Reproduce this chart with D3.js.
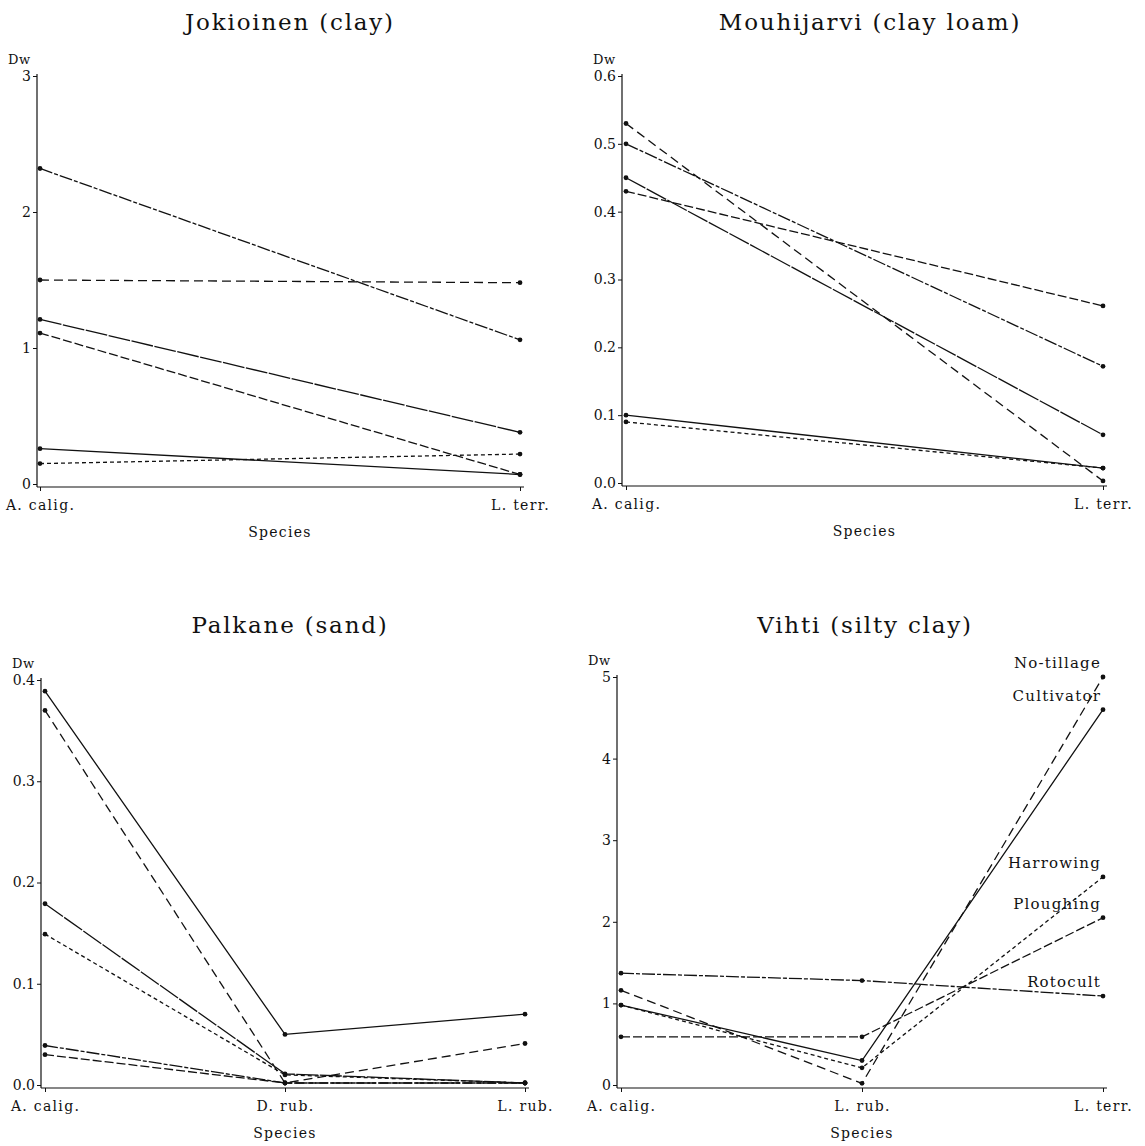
<!DOCTYPE html>
<html>
<head>
<meta charset="utf-8">
<script src="https://cdn.jsdelivr.net/npm/d3@7"></script>
<style>
  html, body { margin: 0; padding: 0; background: #fff; }
  svg text { font-family: "DejaVu Serif", "Liberation Serif", serif; fill: #111; }
</style>
</head>
<body>
<svg id="chart" width="1145" height="1146"></svg>
<script>
// ---- data ----
const jokSpecies = ["A. calig.", "L. terr."];
const jokTicks = [0, 1, 2, 3];
const jokValues = [
  [2.32, 1.06],
  [1.50, 1.48],
  [1.21, 0.38],
  [1.11, 0.07],
  [0.26, 0.07],
  [0.15, 0.22]
];

const mouSpecies = ["A. calig.", "L. terr."];
const mouTicks = [0, 0.1, 0.2, 0.3, 0.4, 0.5, 0.6];
const mouValues = [
  [0.53, 0.003],
  [0.50, 0.172],
  [0.45, 0.071],
  [0.43, 0.261],
  [0.10, 0.022],
  [0.09, 0.022]
];

const palSpecies = ["A. calig.", "D. rub.", "L. rub."];
const palTicks = [0, 0.1, 0.2, 0.3, 0.4];
const palValues = [
  [0.389, 0.050, 0.070],
  [0.370, 0.002, 0.041],
  [0.179, 0.011, 0.002],
  [0.149, 0.010, 0.002],
  [0.039, 0.002, 0.002],
  [0.030, 0.002, 0.002]
];

const vihSpecies = ["A. calig.", "L. rub.", "L. terr."];
const vihTicks = [0, 1, 2, 3, 4, 5];
const vihSeries = ["No-tillage", "Cultivator", "Harrowing", "Ploughing", "Rotocult"];
const vihValues = [
  [1.16, 0.02, 5.00],
  [0.98, 0.30, 4.60],
  [0.98, 0.21, 2.55],
  [0.59, 0.59, 2.05],
  [1.37, 1.28, 1.09]
];

// dash patterns per line, same order as the value arrays
const DASH = {
  solid: null,
  long: "9,5",
  short: "4,3",
  plough: "9,3",
  roto: "13,2,4,2",
  near: "22,1.5"
};

const panels = [
  { title: "Jokioinen (clay)", species: jokSpecies, ticks: jokTicks, values: jokValues,
    fmt: d3.format("d"), dashes: [DASH.roto, DASH.long, DASH.near, DASH.plough, DASH.solid, DASH.short],
    yAxisX: 37, x0: 40, x1: 520, yBase: 484, yTop: 76, titleX: 290, titleY: 30 },
  { title: "Mouhijarvi (clay loam)", species: mouSpecies, ticks: mouTicks, values: mouValues,
    fmt: d3.format(".1f"), dashes: [DASH.long, DASH.roto, DASH.near, DASH.plough, DASH.solid, DASH.short],
    yAxisX: 622, x0: 626, x1: 1103, yBase: 483, yTop: 76, titleX: 870, titleY: 30 },
  { title: "Palkane (sand)", species: palSpecies, ticks: palTicks, values: palValues,
    fmt: d3.format(".1f"), dashes: [DASH.solid, DASH.long, DASH.near, DASH.short, DASH.roto, DASH.plough],
    yAxisX: 41, x0: 45, x1: 525, yBase: 1085, yTop: 680, titleX: 290, titleY: 633 },
  { title: "Vihti (silty clay)", species: vihSpecies, ticks: vihTicks, values: vihValues,
    fmt: d3.format("d"), dashes: [DASH.long, DASH.solid, DASH.short, DASH.plough, DASH.roto],
    names: vihSeries,
    yAxisX: 617, x0: 621, x1: 1103, yBase: 1085, yTop: 677, titleX: 865, titleY: 633 }
];

const svg = d3.select("#chart");

panels.forEach(p => {
  const g = svg.append("g");

  const x = d3.scalePoint()
    .domain(p.species)
    .range([p.x0, p.x1]);

  const y = d3.scaleLinear()
    .domain([0, d3.max(p.ticks)])
    .range([p.yBase, p.yTop]);

  const axisY = p.yBase + 3;

  // title
  g.append("text")
    .attr("x", p.titleX)
    .attr("y", p.titleY)
    .attr("text-anchor", "middle")
    .style("font-size", "23px")
    .style("letter-spacing", "1.8px")
    .text(p.title);

  // y axis
  const ya = g.append("g")
    .attr("transform", `translate(${p.yAxisX},0)`)
    .call(d3.axisLeft(y).tickValues(p.ticks).tickFormat(p.fmt).tickSize(4).tickPadding(2).tickSizeOuter(0));
  ya.select(".domain").remove();
  ya.append("line")
    .attr("y1", p.yTop - 2).attr("y2", axisY)
    .attr("stroke", "#111").attr("stroke-width", 1.2);
  ya.selectAll(".tick text").style("font-size", "14px").attr("fill", "#111");
  ya.selectAll(".tick line").attr("stroke", "#111");

  g.append("text")
    .attr("x", p.yAxisX - 29)
    .attr("y", p.yTop - 12)
    .style("font-size", "13px")
    .style("letter-spacing", "0.5px")
    .text("Dw");

  // x axis
  const xa = g.append("g")
    .attr("transform", `translate(0,${axisY})`)
    .call(d3.axisBottom(x).tickSize(4).tickPadding(9).tickSizeOuter(0));
  xa.select(".domain").remove();
  xa.append("line")
    .attr("x1", p.yAxisX).attr("x2", p.x1 + 4)
    .attr("stroke", "#111").attr("stroke-width", 1.2);
  xa.selectAll(".tick text")
    .style("font-size", "14px")
    .style("letter-spacing", "1.3px")
    .attr("fill", "#111");
  xa.selectAll(".tick line").attr("stroke", "#111");

  g.append("text")
    .attr("x", (p.x0 + p.x1) / 2)
    .attr("y", axisY + 50)
    .attr("text-anchor", "middle")
    .style("font-size", "14px")
    .style("letter-spacing", "1.3px")
    .text("Species");

  // lines
  const line = d3.line()
    .x((d, i) => x(p.species[i]))
    .y(d => y(d));

  g.selectAll(".series")
    .data(p.values)
    .join("path")
    .attr("class", "series")
    .attr("d", line)
    .attr("fill", "none")
    .attr("stroke", "#111")
    .attr("stroke-width", 1.3)
    .attr("stroke-dasharray", (d, i) => p.dashes[i]);

  p.values.forEach(vals => {
    g.selectAll(null)
      .data(vals)
      .join("circle")
      .attr("cx", (d, i) => x(p.species[i]))
      .attr("cy", d => y(d))
      .attr("r", 2.4)
      .attr("fill", "#111");
  });

  // series labels at the right end (Vihti only)
  if (p.names) {
    const last = p.species[p.species.length - 1];
    g.selectAll(".lbl")
      .data(p.names)
      .join("text")
      .attr("class", "lbl")
      .attr("x", x(last) - 2)
      .attr("y", (d, i) => y(p.values[i][p.values[i].length - 1]) - 9)
      .attr("text-anchor", "end")
      .style("font-size", "15px")
      .style("letter-spacing", "1.2px")
      .text(d => d);
  }
});
</script>
</body>
</html>
